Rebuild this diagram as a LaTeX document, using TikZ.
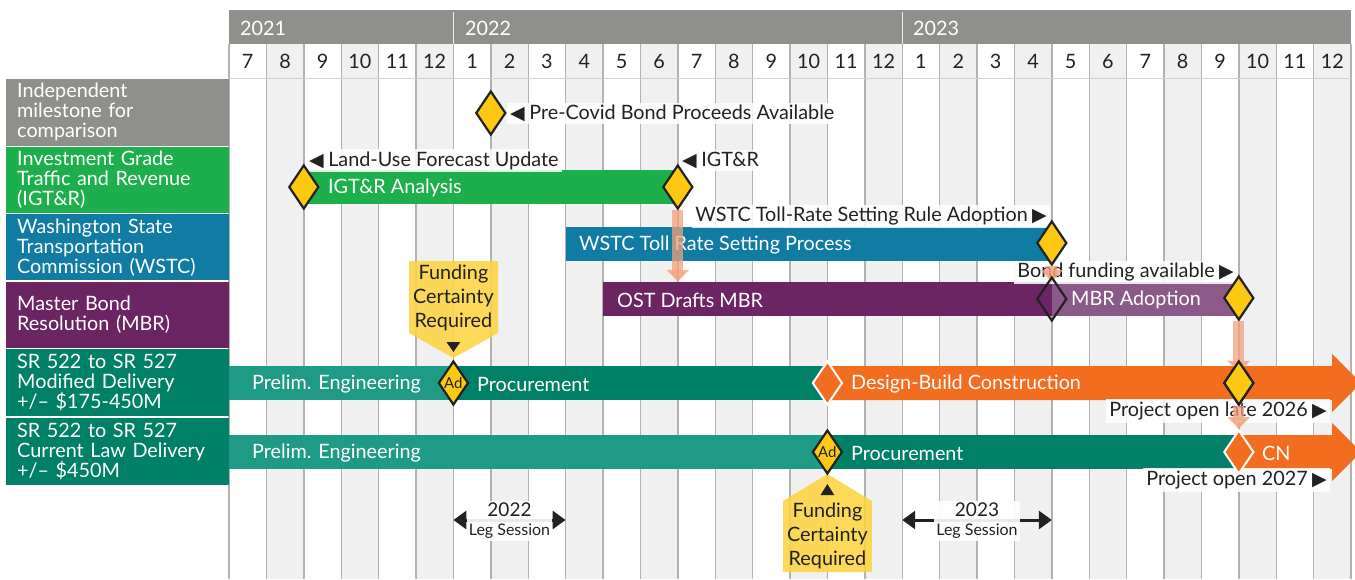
\documentclass[tikz,border=0pt]{standalone}
\usepackage{fontspec}
\setmainfont{Lato}
\newfontfamily\dejavu{DejaVu Sans}
\usetikzlibrary{shapes.geometric,arrows.meta}
\definecolor{hdrgray}{HTML}{8F908C}
\definecolor{colgray}{HTML}{F0F0F0}
\definecolor{gridcol}{HTML}{B2B2B2}
\definecolor{igtrgreen}{HTML}{1DAF4B}
\definecolor{wstcblue}{HTML}{107CA3}
\definecolor{mbrpurple}{HTML}{6A2562}
\definecolor{mbrlight}{HTML}{8C5A88}
\definecolor{tealdark}{HTML}{008066}
\definecolor{teallight}{HTML}{1F9A86}
\definecolor{brorange}{HTML}{F36D21}
\definecolor{gold}{HTML}{FCC812}
\definecolor{calloutcol}{HTML}{FDD443}
\definecolor{salmon}{HTML}{F4A17C}
\definecolor{ink}{HTML}{222222}
\newcommand\fs{\fontsize{19.8}{20}\selectfont}
\newcommand\lefttri{{\dejavu\fontsize{19}{19}\selectfont ◀}\hspace{4.5pt}}
\newcommand\righttri{\hspace{4.5pt}{\dejavu\fontsize{19}{19}\selectfont ▶}}
\begin{document}
\begin{tikzpicture}[x=1pt,y=-1pt,
  gridl/.style={draw=gridcol, line width=1.4},
  rowlab/.style={anchor=north west, text=white, align=left, font=\fs,
    minimum width=223, text width=201, inner xsep=11, inner ysep=0},
  bar/.style={anchor=west, minimum height=34, inner sep=0, draw=none},
  bartext/.style={anchor=west, text=white, font=\fs, inner sep=0},
  ms/.style={shape=diamond, minimum width=30, minimum height=44, inner sep=0,
    fill=gold, draw=ink, line width=2.2},
  msorange/.style={ms, fill=brorange, draw=white, line width=2},
  msopen/.style={ms, fill=none},
  tagbox/.style={fill=white, fill opacity=0.85, text opacity=1, text=ink,
    font=\fs, inner xsep=3, inner ysep=2.5},
  salarrow/.style={draw=salmon, opacity=0.75, line width=11,
    -{Triangle[width=22pt,length=12pt]}},
  legarrow/.style={draw=ink, line width=3,
    {Triangle[width=18pt,length=13pt]}-{Triangle[width=18pt,length=13pt]}},
  legbox/.style={fill=white, fill opacity=0.9, text opacity=1, text=ink,
    align=center, font=\fontsize{19}{20}\selectfont, inner xsep=2, inner ysep=2},
  callouttext/.style={text=ink, align=center,
    font=\fontsize{19.8}{24}\selectfont, inner sep=0},
  monthtxt/.style={text=ink, font=\fs, inner sep=0},
  yeartxt/.style={text=white, font=\fs, inner sep=0, anchor=west},
  adlabel/.style={font=\fontsize{15}{15}\selectfont, text=ink, inner sep=0}
]
\useasboundingbox (0,0) rectangle (1355,579);

% ---- month columns ----
\foreach \i in {1,3,...,29}
  \fill[colgray] ({229+37.4*\i},44) rectangle ({229+37.4*(\i+1)},579);
\foreach \i in {0,...,30}
  \draw[gridl] ({229+37.4*\i},44) -- ({229+37.4*\i},579);
\draw[draw=gridcol!60, line width=1] (229,78) -- (1351,78);

% ---- year header ----
\fill[hdrgray] (229,10) rectangle (1351,44);
\draw[white!85!hdrgray, line width=1.2] (453.4,12) -- (453.4,44) (902.2,12) -- (902.2,44);
\node[yeartxt] (y2021) at (240,28) {2021};
\node[yeartxt] (y2022) at (465,28) {2022};
\node[yeartxt] (y2023) at (913,28) {2023};

% ---- month numbers ----
\foreach \m [count=\i from 0] in {7,8,9,10,11,12,1,2,3,4,5,6,7,8,9,10,11,12,1,2,3,4,5,6,7,8,9,10,11,12}
  \node[monthtxt] (mon\i) at ({229+37.4*(\i+0.5)},61) {\m};

% ---- row labels ----
\node[rowlab, fill=hdrgray, minimum height=67] (r1) at (6,78.5) {Independent\\milestone for\\comparison};
\node[rowlab, fill=igtrgreen, minimum height=65.5] (r2) at (6,147) {Investment Grade\\Traffic and Revenue\\(IGT\&R)};
\node[rowlab, fill=wstcblue, minimum height=66] (r3) at (6,214) {Washington State\\Transportation\\Commission (WSTC)};
\node[rowlab, fill=mbrpurple, minimum height=65.5] (r4) at (6,282) {Master Bond\\Resolution (MBR)};
\node[rowlab, fill=tealdark, minimum height=67] (r5) at (6,349) {SR 522 to SR 527\\Modified Delivery\\+/– \$175-450M};
\node[rowlab, fill=tealdark, minimum height=67] (r6) at (6,418) {SR 522 to SR 527\\Current Law Delivery\\+/– \$450M};

% ---- bars ----
\node[bar, fill=igtrgreen, minimum width=374] (igtrbar) at (303.8,187) {};
\node[bar, fill=wstcblue, minimum width=486.2] (wstcbar) at (565.6,244) {};
\node[bar, fill=mbrpurple, minimum width=448.8] (ostbar) at (603,299) {};
\node[bar, fill=mbrlight, minimum width=187] (mbradbar) at (1051.8,299) {};
\node[bar, fill=teallight, minimum width=224.4] (modpe) at (229,383) {};
\node[bar, fill=tealdark, minimum width=374] (modproc) at (453.4,383) {};
\fill[brorange] (827.4,366) -- (1332,366) -- (1332,354) -- (1361,383) -- (1332,412) -- (1332,400) -- (827.4,400) -- cycle;
\node[bar, fill=teallight, minimum width=598.4] (curpe) at (229,452) {};
\node[bar, fill=tealdark, minimum width=411.4] (curproc) at (827.4,452) {};
\fill[brorange] (1238.8,435) -- (1332,435) -- (1332,423) -- (1361,452) -- (1332,481) -- (1332,469) -- (1238.8,469) -- cycle;

% ---- bar texts ----
\node[bartext] (t1) at (328,188) {IGT\&R Analysis};
\node[bartext] (t2) at (579,245) {WSTC Toll Rate Setting Process};
\node[bartext] (t3) at (617,300) {OST Drafts MBR};
\node[bartext] (t4) at (1071,300) {MBR Adoption};
\node[bartext] (t5) at (252,384) {Prelim. Engineering};
\node[bartext] (t6) at (477,384) {Procurement};
\node[bartext] (t7) at (851,384) {Design-Build Construction};
\node[bartext] (t8) at (252,453) {Prelim. Engineering};
\node[bartext] (t9) at (851,453) {Procurement};
\node[bartext] (t10) at (1262,453) {CN};

% ---- tags ----
\node[tagbox, anchor=west] (tagpcb) at (507,113.5) {\lefttri Pre-Covid Bond Proceeds Available};
\node[tagbox, anchor=west] (tagluf) at (306,160.5) {\lefttri Land-Use Forecast Update};
\node[tagbox, anchor=west] (tagigtr) at (679,160.5) {\lefttri IGT\&R};
\node[tagbox, anchor=east] (tagrule) at (1050,216.5) {WSTC Toll-Rate Setting Rule Adoption\righttri};
\node[tagbox, anchor=east] (tagbond) at (1237,272.5) {Bond funding available\righttri};
\node[tagbox, anchor=east] (tagopen26) at (1330,411) {Project open late 2026\righttri};
\node[tagbox, anchor=east] (tagopen27) at (1330,480) {Project open 2027\righttri};

% ---- callouts ----
\fill[calloutcol, fill opacity=0.88] (409,261) -- (498,261) -- (498,333) -- (453.4,358) -- (409,333) -- cycle;
\node[callouttext] (fc1) at (453.4,298) {Funding\\Certainty\\Required};
\fill[ink] (446.5,342) -- (460.3,342) -- (453.4,352) -- cycle;
\fill[calloutcol, fill opacity=0.88] (783,572) -- (871.8,572) -- (871.8,501) -- (827.4,474) -- (783,501) -- cycle;
\node[callouttext] (fc2) at (827.4,536) {Funding\\Certainty\\Required};
\fill[ink] (820.5,495) -- (834.3,495) -- (827.4,484) -- cycle;

% ---- milestones ----
\node[ms] (pcb) at (490.8,113) {};
\node[ms] (luf) at (303.8,187) {};
\node[ms] (igtr) at (677.8,187) {};
\node[ms] (ruleadopt) at (1051.8,243) {};
\node[ms] (mbrdone) at (1238.8,298) {};
\node[ms] (open26) at (1238.8,383) {};
\node[msorange] (dbstart) at (827.4,383) {};
\node[msorange] (cnstart) at (1238.8,452) {};

% ---- salmon arrows ----
\draw[salarrow] (igtr.south) -- (igtr.south |- ostbar.north);
\draw[salarrow] (ruleadopt.south) -- (ruleadopt.south |- ostbar.north);
\draw[salarrow] (mbrdone.south) -- ([yshift=-13pt]open26.north);
\draw[salarrow] (open26.south) -- (cnstart.north);

% ---- milestones on top ----
\node[ms] (open26b) at (1238.8,383) {};
\node[msopen] (bondavail) at (1051.8,299) {};
\node[ms, label={[adlabel]center:Ad}] (ad1) at (453.4,383) {};
\node[ms, label={[adlabel]center:Ad}] (ad2) at (827.4,452) {};

% ---- leg sessions ----
\coordinate (ls22a) at (453.4,520);
\coordinate (ls22b) at (565.6,520);
\draw[legarrow] (ls22a) -- (ls22b);
\node[legbox] (ls22) at (509.5,521) {2022\\[-1pt]{\fontsize{16}{16}\selectfont Leg Session}};
\coordinate (ls23a) at (902.2,520);
\coordinate (ls23b) at (1051.8,520);
\draw[legarrow] (ls23a) -- (ls23b);
\node[legbox] (ls23) at (977,521) {2023\\[-1pt]{\fontsize{16}{16}\selectfont Leg Session}};
\end{tikzpicture}
\end{document}
